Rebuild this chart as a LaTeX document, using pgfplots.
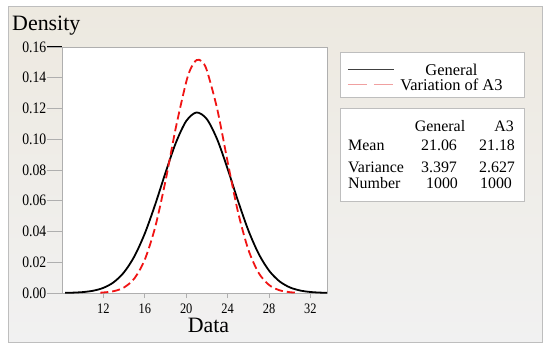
\documentclass[border=0pt]{standalone}
\usepackage{pgfplots}
\pgfplotsset{compat=1.18}
\usepackage{fontspec}
\setmainfont{Liberation Serif}
\newfontfamily\tickfont{Liberation Serif}[FakeStretch=0.86]
\definecolor{panelTop}{RGB}{237,233,224}
\definecolor{panelBot}{RGB}{241,241,241}
\definecolor{frameGray}{RGB}{190,190,190}
\definecolor{axGray}{RGB}{175,175,175}
\definecolor{redline}{RGB}{240,20,20}
\definecolor{legpink}{RGB}{240,160,160}
\begin{document}
\begin{tikzpicture}[x=1bp,y=1bp]
\path (0,0) rectangle (550,351);
% outer panel
\shade[top color=panelTop, bottom color=panelBot, draw=frameGray, line width=1bp] (8,9) rectangle (542,344);
% legend box and stats box
\draw[frameGray, fill=white, line width=0.8bp] (340,254) rectangle (524,299);
\draw[frameGray, fill=white, line width=0.8bp] (340,150) rectangle (524,243);
\begin{axis}[
  scale only axis,
  width=265bp, height=246bp,
  at={(62bp,58bp)}, anchor=south west,
  xmin=8, xmax=33.6, ymin=0, ymax=0.16,
  axis background/.style={fill=white},
  axis line style={axGray, line width=0.8bp},
  xtick={12,16,20,24,28,32},
  minor xtick={12,16,20,24,28,32},
  major x tick style={draw=none},
  ytick={0,0.02,0.04,0.06,0.08,0.1,0.12,0.14,0.16},
  /pgf/number format/assume math mode=true,
  yticklabel style={/pgf/number format/fixed, /pgf/number format/fixed zerofill, /pgf/number format/precision=2, font=\tickfont\fontsize{16}{16}\selectfont, inner sep=0.5bp},
  xticklabel style={font=\tickfont\fontsize{14.5}{15}\selectfont, inner sep=1.5bp},
  xticklabel shift=-6bp,
  tick align=outside,
  xtick pos=bottom, ytick pos=left,
  tick style={axGray, line width=0.8bp},
  major tick length=15bp,
  minor tick length=5bp,
  extra y ticks={0.16},
  extra y tick labels={},
  extra y tick style={tick style={black, line width=1bp}},
  legend style={draw=none, fill=none, inner sep=0pt, row sep=0pt,
    at={(axis description cs:1.0755,0.9309)}, anchor=north west,
    font=\fontsize{16.5}{16.5}\selectfont,
    nodes={inner sep=0pt, text height=11bp, text depth=4bp}},
  legend image code/.code={\draw[#1] (0bp,2bp) -- (46bp,2bp);},
]
\addplot[black, line width=1.8bp, smooth,
  legend image post style={line width=0.9bp, draw=black!75}] coordinates {
(8.3,0.000101) (9,0.000215) (10,0.000586) (11,0.001464) (12,0.003352)
(13,0.007035) (14,0.013544) (15,0.023922) (16,0.038728) (17,0.057494)
(18,0.078277) (19,0.097715) (20,0.111859) (21,0.117422)
(22,0.113028) (23,0.099769) (24,0.080755) (25,0.059936) (26,0.040792)
(27,0.025462) (28,0.014572) (29,0.007645) (30,0.003680) (31,0.001624)
(32,0.000657) (33,0.000244) (33.6,0.000129)
};
\addlegendentry{\makebox[114bp][c]{General}}
\addplot[redline, line width=1.8bp, smooth, dash pattern=on 8bp off 4bp,
  legend image post style={line width=1.2bp, draw=legpink, dash pattern=on 19bp off 7bp}] coordinates {
(11.7,0.000226) (12,0.000339) (13,0.001191) (14,0.003626) (15,0.009543)
(16,0.021740) (17,0.042828) (18,0.072990) (19,0.107631) (20,0.137293)
(20.5,0.146862) (21,0.151510) (21.5,0.150744) (22,0.144645)
(23,0.119463) (24,0.085355) (25,0.052758) (26,0.028214) (27,0.013050)
(28,0.005224) (29,0.001808) (30,0.000542) (30.7,0.000214)
};
\addlegendentry{\makebox[114bp][c]{Variation of A3}}
\end{axis}
% axis titles
\node[anchor=base west, inner sep=0pt, font=\fontsize{22}{22}\selectfont] at (12,321) {Density};
\node[anchor=base, inner sep=0pt, font=\fontsize{22}{22}\selectfont] at (208.5,19) {Data};
% stats table
\begin{scope}[every node/.style={inner sep=0pt, font=\fontsize{16}{16}\selectfont}]
\node[anchor=base] at (440,220) {General};
\node[anchor=base east] at (514,220) {A3};
\node[anchor=base west] at (348,201) {Mean};
\node[anchor=base] at (439,201) {21.06};
\node[anchor=base] at (497,201) {21.18};
\node[anchor=base west] at (348,179) {Variance};
\node[anchor=base] at (439,179) {3.397};
\node[anchor=base] at (497,179) {2.627};
\node[anchor=base west] at (348,163) {Number};
\node[anchor=base] at (442,163) {1000};
\node[anchor=base] at (496,163) {1000};
\end{scope}
\end{tikzpicture}
\end{document}
